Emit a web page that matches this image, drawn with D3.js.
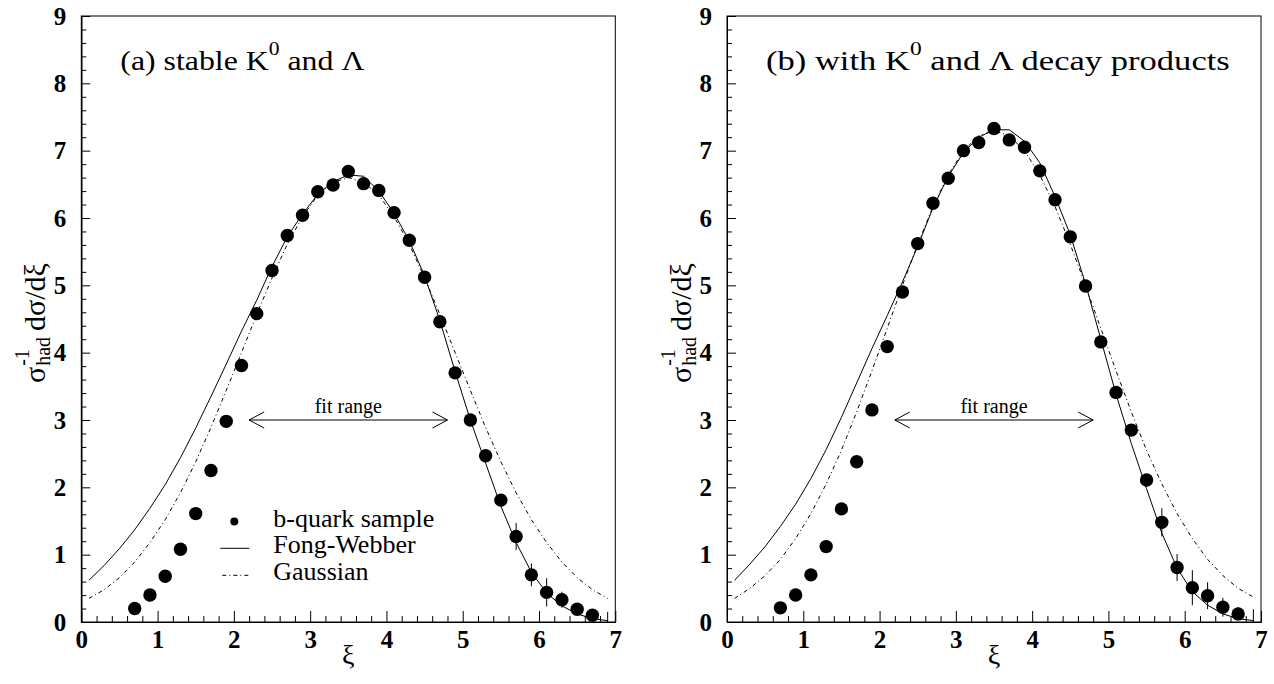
<!DOCTYPE html>
<html>
<head>
<meta charset="utf-8">
<script src="https://cdn.jsdelivr.net/npm/d3@7"></script>
<style>
  html, body { margin: 0; padding: 0; background: #fff; }
  svg { display: block; }
  text { font-family: "Liberation Serif", "Times New Roman", serif; fill: #000; }
</style>
</head>
<body>
<svg id="chart" width="1274" height="684"></svg>
<script>
// ---- measured spectra: xi = ln(1/x_p), bin centres ----
const xiPoints = [0.7, 0.9, 1.1, 1.3, 1.5, 1.7, 1.9, 2.1, 2.3, 2.5, 2.7, 2.9, 3.1, 3.3, 3.5, 3.7,
                  3.9, 4.1, 4.3, 4.5, 4.7, 4.9, 5.1, 5.3, 5.5, 5.7, 5.9, 6.1, 6.3, 6.5, 6.7, 6.9];

// (a) stable K0 and Lambda
const sampleA = [0.20, 0.40, 0.68, 1.08, 1.61, 2.25, 2.98, 3.81, 4.58, 5.22, 5.74, 6.04, 6.39, 6.49, 6.69, 6.51,
                 6.41, 6.08, 5.67, 5.12, 4.46, 3.70, 3.00, 2.47, 1.81, 1.27, 0.70, 0.44, 0.33, 0.19, 0.10, -0.05];
const errorA  = [0.02, 0.02, 0.03, 0.03, 0.03, 0.04, 0.04, 0.04, 0.05, 0.05, 0.05, 0.05, 0.05, 0.05, 0.05, 0.05,
                 0.05, 0.05, 0.05, 0.05, 0.05, 0.05, 0.06, 0.07, 0.08, 0.20, 0.17, 0.21, 0.12, 0.09, 0.07, 0.20];

// (b) with K0 and Lambda decay products
const sampleB = [0.21, 0.40, 0.70, 1.12, 1.68, 2.38, 3.15, 4.09, 4.90, 5.62, 6.22, 6.59, 7.00, 7.12, 7.33, 7.16,
                 7.05, 6.70, 6.27, 5.72, 4.99, 4.16, 3.41, 2.85, 2.11, 1.48, 0.81, 0.51, 0.39, 0.22, 0.12, -0.05];
const errorB  = [0.02, 0.02, 0.03, 0.03, 0.03, 0.04, 0.04, 0.04, 0.05, 0.05, 0.05, 0.05, 0.05, 0.05, 0.05, 0.05,
                 0.05, 0.05, 0.05, 0.05, 0.05, 0.05, 0.06, 0.07, 0.08, 0.21, 0.20, 0.26, 0.20, 0.14, 0.10, 0.24];

// ---- fitted curves, sampled along xi ----
const xiCurve = [0.1, 0.3, 0.5, 0.7, 0.9, 1.1, 1.3, 1.5, 1.7, 1.9, 2.1, 2.3, 2.5, 2.7, 2.9, 3.1, 3.3, 3.5,
                 3.7, 3.9, 4.1, 4.3, 4.5, 4.7, 4.9, 5.1, 5.3, 5.5, 5.7, 5.9, 6.1, 6.3, 6.5, 6.7, 6.9];

const fongWebberA = [0.62, 0.84, 1.09, 1.37, 1.69, 2.04, 2.44, 2.88, 3.35, 3.83, 4.32, 4.78, 5.28, 5.72, 6.06, 6.35, 6.54, 6.64,
                     6.62, 6.40, 6.07, 5.66, 5.14, 4.48, 3.72, 3.00, 2.36, 1.72, 1.18, 0.74, 0.43, 0.24, 0.12, 0.05, 0.02];
const gaussianA   = [0.35, 0.48, 0.66, 0.89, 1.18, 1.52, 1.92, 2.38, 2.89, 3.44, 4.00, 4.57, 5.11, 5.61, 6.02, 6.34, 6.53, 6.60,
                     6.53, 6.34, 6.02, 5.61, 5.11, 4.57, 4.00, 3.44, 2.89, 2.38, 1.92, 1.52, 1.18, 0.89, 0.66, 0.48, 0.35];

const fongWebberB = [0.62, 0.86, 1.12, 1.42, 1.75, 2.13, 2.56, 3.04, 3.55, 4.06, 4.55, 5.05, 5.58, 6.15, 6.62, 6.97, 7.20, 7.31,
                     7.31, 7.14, 6.82, 6.32, 5.75, 5.02, 4.20, 3.38, 2.65, 1.98, 1.32, 0.80, 0.45, 0.25, 0.12, 0.05, 0.02];
const gaussianB   = [0.35, 0.50, 0.69, 0.93, 1.24, 1.61, 2.05, 2.55, 3.12, 3.73, 4.36, 5.00, 5.61, 6.17, 6.64, 7.00, 7.22, 7.30,
                     7.22, 7.00, 6.64, 6.17, 5.61, 5.00, 4.36, 3.73, 3.12, 2.55, 2.05, 1.61, 1.24, 0.93, 0.69, 0.50, 0.37];

// ---- axes, labels and annotations ----
const xTicks = [0, 1, 2, 3, 4, 5, 6, 7];
const yTicks = [0, 1, 2, 3, 4, 5, 6, 7, 8, 9];
const xDomain = [0, 7];
const yDomain = [0, 9];
const panelTitles = ["(a) stable K", "(b) with K"];
const panelTitleTails = [" and \u039B", " and \u039B decay products"];
const legendLabels = ["b-quark sample", "Fong-Webber", "Gaussian"];
const fitRange = [2.2, 4.8];
const fitArrowLevel = 3;
const fitLabel = "fit range";

const svg = d3.select("#chart");

const plotW = 534, plotTop = 16, plotBottom = 622;
const titleWidths = [245, 464];

function drawPanel(idx, left, sample, errors, fong, gauss, withLegend) {
  const g = svg.append("g");
  const x = d3.scaleLinear().domain(xDomain).range([left, left + plotW]);
  const y = d3.scaleLinear().domain(yDomain).range([plotBottom, plotTop]);

  const clipId = "clip" + idx;
  svg.append("defs").append("clipPath").attr("id", clipId)
    .append("rect").attr("x", left).attr("y", plotTop).attr("width", plotW).attr("height", plotBottom - plotTop);

  // frame
  g.append("rect").attr("x", left).attr("y", plotTop).attr("width", plotW).attr("height", plotBottom - plotTop)
    .attr("fill", "none").attr("stroke", "#000").attr("stroke-width", 1);

  // minor ticks every 0.2
  const xMinor = d3.range(0, 7.001, 0.2).map(v => +v.toFixed(1)).filter(v => !xTicks.includes(v));
  const yMinor = d3.range(0, 9.001, 0.2).map(v => +v.toFixed(1)).filter(v => !yTicks.includes(v));

  const xAxisMinor = d3.axisBottom(x).tickValues(xMinor).tickSize(-6).tickFormat("").tickSizeOuter(0);
  const yAxisMinor = d3.axisLeft(y).tickValues(yMinor).tickSize(-5).tickFormat("").tickSizeOuter(0);
  g.append("g").attr("transform", `translate(0,${plotBottom})`).call(xAxisMinor);
  g.append("g").attr("transform", `translate(${left},0)`).call(yAxisMinor);

  const xAxis = d3.axisBottom(x).tickValues(xTicks).tickSize(-11).tickPadding(8).tickSizeOuter(0).tickFormat(d3.format("d"));
  const yAxis = d3.axisLeft(y).tickValues(yTicks).tickSize(-9).tickPadding(15).tickSizeOuter(0).tickFormat(d3.format("d"));
  g.append("g").attr("class", "xaxis").attr("transform", `translate(0,${plotBottom})`).call(xAxis);
  g.append("g").attr("class", "yaxis").attr("transform", `translate(${left},0)`).call(yAxis);

  g.selectAll(".domain").attr("stroke", "#000").attr("stroke-width", 1);
  g.selectAll(".tick line").attr("stroke", "#000").attr("stroke-width", 1);
  g.selectAll(".xaxis text, .yaxis text")
    .style("font-family", '"Liberation Serif", "Times New Roman", serif')
    .style("font-weight", "bold").style("font-size", "25px").attr("fill", "#000");

  // x-axis title
  g.append("text").attr("x", x(3.5)).attr("y", 664).attr("text-anchor", "middle")
    .style("font-size", "28px").text("\u03BE");

  // y-axis title: sigma^-1_had dsigma/dxi, rotated
  const yt = g.append("g").attr("transform", `translate(${left - 36},323) rotate(-90)`);
  const yTitle = yt.append("text").style("font-size", "30px");
  yTitle.append("tspan").text("\u03C3");
  const sig = yTitle.node().getComputedTextLength();
  yt.append("text").style("font-size", "20px").attr("x", sig + 1).attr("y", -16).text("-1");
  const yTitleSub = yt.append("text").style("font-size", "20px").attr("x", sig + 1).attr("y", 5).text("had");
  const subW = yTitleSub.node().getComputedTextLength();
  const tail = yt.append("text").style("font-size", "30px").attr("x", sig + subW + 7).text("d\u03C3/d\u03BE");
  const total = sig + subW + 7 + tail.node().getComputedTextLength();
  yt.selectAll("text").attr("transform", `translate(${-total / 2},0)`);

  // panel title, widened to the set run length
  const tx = left + 39;
  const title = g.append("text").attr("x", tx).attr("y", 70).style("font-size", "28px");
  title.append("tspan").text(panelTitles[idx]);
  title.append("tspan").attr("dy", -15).style("font-size", "19px").text("0");
  title.append("tspan").attr("dy", 15).text(panelTitleTails[idx]);
  const tw = title.node().getBBox().width;
  const sx = titleWidths[idx] / tw;
  title.attr("transform", `translate(${tx},0) scale(${sx},1) translate(${-tx},0)`);

  // fit range arrow
  const ay = y(fitArrowLevel);
  const x1 = x(fitRange[0]), x2 = x(fitRange[1]);
  const arrow = g.append("g").attr("fill", "none").attr("stroke", "#000").attr("stroke-width", 1);
  arrow.append("line").attr("x1", x1).attr("x2", x2).attr("y1", ay).attr("y2", ay);
  arrow.append("path").attr("d", `M${x1 + 15},${ay - 8}L${x1},${ay}L${x1 + 15},${ay + 8}`);
  arrow.append("path").attr("d", `M${x2 - 15},${ay - 8}L${x2},${ay}L${x2 - 15},${ay + 8}`);
  g.append("text").attr("x", x((fitRange[0] + fitRange[1]) / 2)).attr("y", ay - 7)
    .attr("text-anchor", "middle").style("font-size", "20px").text(fitLabel);

  // curves
  const plot = g.append("g").attr("clip-path", `url(#${clipId})`);
  const line = d3.line().x(d => x(d[0])).y(d => y(d[1]));
  plot.append("path").datum(xiCurve.map((v, i) => [v, gauss[i]]))
    .attr("d", line).attr("fill", "none").attr("stroke", "#000").attr("stroke-width", 1)
    .attr("stroke-dasharray", "4 3 1 3");
  plot.append("path").datum(xiCurve.map((v, i) => [v, fong[i]]))
    .attr("d", line).attr("fill", "none").attr("stroke", "#000").attr("stroke-width", 1);

  // data points with error bars (markers outside the frame are not drawn)
  const pts = xiPoints.map((v, i) => ({ xi: v, val: sample[i], err: errors[i] }));
  plot.selectAll("line.err").data(pts).enter().append("line").attr("class", "err")
    .attr("x1", d => x(d.xi)).attr("x2", d => x(d.xi))
    .attr("y1", d => y(d.val - d.err)).attr("y2", d => y(d.val + d.err))
    .attr("stroke", "#000").attr("stroke-width", 1);
  g.selectAll("circle.pt").data(pts.filter(d => d.val >= yDomain[0])).enter().append("circle").attr("class", "pt")
    .attr("cx", d => x(d.xi)).attr("cy", d => y(d.val)).attr("r", 6.7).attr("fill", "#000");

  if (withLegend) {
    const rows = [521.5, 548.3, 575.3];
    g.append("circle").attr("cx", left + 153).attr("cy", rows[0]).attr("r", 4).attr("fill", "#000");
    g.append("line").attr("x1", left + 139).attr("x2", left + 168).attr("y1", rows[1]).attr("y2", rows[1])
      .attr("stroke", "#000").attr("stroke-width", 1);
    g.append("line").attr("x1", left + 141).attr("x2", left + 168).attr("y1", rows[2]).attr("y2", rows[2])
      .attr("stroke", "#000").attr("stroke-width", 1).attr("stroke-dasharray", "4 3 1 3");
    legendLabels.forEach((lab, i) => {
      g.append("text").attr("x", left + 192).attr("y", rows[i] + 5)
        .style("font-size", "26px").text(lab);
    });
  }
}

drawPanel(0, 81.3, sampleA, errorA, fongWebberA, gaussianA, true);
drawPanel(1, 727, sampleB, errorB, fongWebberB, gaussianB, false);
</script>
</body>
</html>
